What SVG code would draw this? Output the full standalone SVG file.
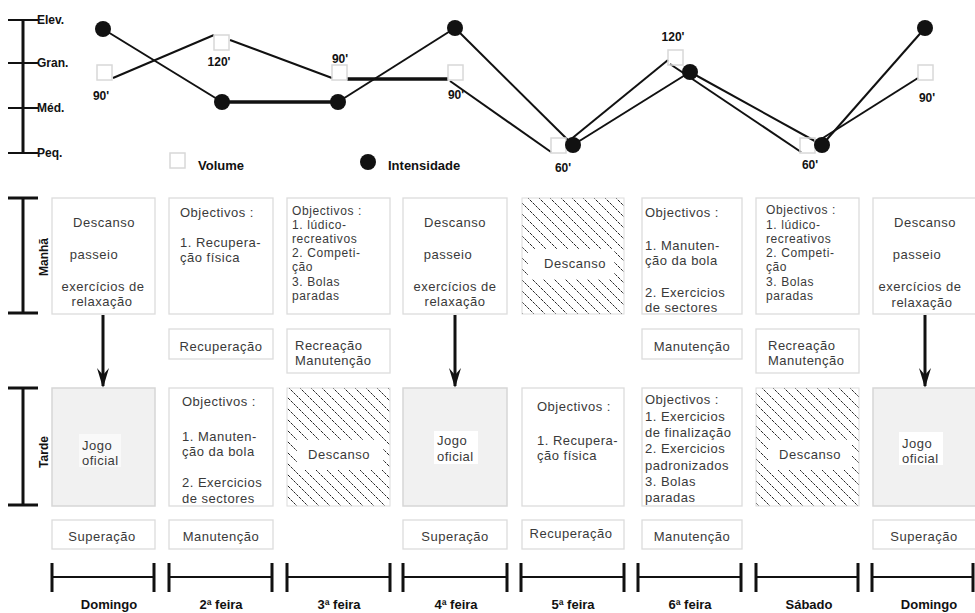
<svg xmlns="http://www.w3.org/2000/svg" width="975" height="613" viewBox="0 0 975 613">
<style>
.bx{fill:#fff;stroke:#dcdcdc;stroke-width:1.3}
.gb{fill:#f1f1f1;stroke:#d6d6d6;stroke-width:1.5}
.hb{fill:url(#hatch);stroke:#dcdcdc;stroke-width:1}
.t{font-family:"Liberation Sans",Arial,sans-serif;font-size:13px;fill:#3a3a3a;letter-spacing:0.5px}
.s{font-size:12px;letter-spacing:0.6px}
.c{text-anchor:middle}
.b{font-family:"Liberation Sans",Arial,sans-serif;font-weight:bold;font-size:12px;fill:#111}
.d{font-family:"Liberation Sans",Arial,sans-serif;font-weight:bold;font-size:13px;fill:#111;text-anchor:middle}
.ax{stroke:#111;stroke-width:3;fill:none}
.tk{stroke:#111;stroke-width:2;fill:none}
.ln{stroke:#111;stroke-width:2;fill:none}
.th{stroke:#111;stroke-width:3.5;fill:none}
.sq{fill:none;stroke:#d8d8d8;stroke-width:1.5}
.dot{fill:#111}
.wb{fill:#fff}
.ar{stroke:#111;stroke-width:3;fill:none}
</style>
<defs>
<pattern id="hatch" patternUnits="userSpaceOnUse" width="11" height="11">
<path d="M-1,-1 L12,12 M-1,10 L1,12 M10,-1 L12,1" stroke="#222" stroke-width="1" stroke-dasharray="3 1"/>
</pattern>
<marker id="ah" viewBox="0 0 20 12" refX="18" refY="6" markerWidth="20" markerHeight="12" markerUnits="userSpaceOnUse" orient="auto">
<path d="M20,6 L0,0 L7,6 L0,12 Z" fill="#111"/>
</marker>
</defs>
<rect width="975" height="613" fill="#fff"/>

<g id="chart-axis">
<line class="ax" x1="23" y1="20" x2="23" y2="153"/>
<line class="tk" x1="8" y1="20" x2="38" y2="20"/>
<line class="tk" x1="8" y1="63" x2="38" y2="63"/>
<line class="tk" x1="8" y1="108" x2="38" y2="108"/>
<line class="tk" x1="8" y1="153" x2="38" y2="153"/>
<text class="b" x="37" y="24">Elev.</text>
<text class="b" x="37" y="67">Gran.</text>
<text class="b" x="37" y="112">Méd.</text>
<text class="b" x="37" y="157">Peq.</text>
</g>

<g id="connectors">
<line class="ln" x1="113" y1="78" x2="214" y2="35"/>
<line class="ln" x1="230" y1="40" x2="332" y2="78"/>
<line class="th" x1="347" y1="79" x2="448" y2="79"/>
<line class="ln" x1="450" y1="81" x2="551" y2="152"/>
<line class="ln" x1="570" y1="140" x2="668" y2="60"/>
<line class="ln" x1="670" y1="64" x2="801" y2="152"/>
<line class="ln" x1="815" y1="143" x2="918" y2="78"/>
<line class="ln" x1="103" y1="29" x2="222" y2="102"/>
<line class="th" x1="222" y1="102" x2="338" y2="102"/>
<line class="ln" x1="338" y1="102" x2="455" y2="28"/>
<line class="ln" x1="455" y1="28" x2="573" y2="145"/>
<line class="ln" x1="573" y1="145" x2="690" y2="72"/>
<line class="ln" x1="690" y1="72" x2="822" y2="145"/>
<line class="ln" x1="822" y1="145" x2="925" y2="28"/>
<line class="ar" x1="103" y1="315" x2="103" y2="386" marker-end="url(#ah)"/>
<line class="ar" x1="455" y1="315" x2="455" y2="386" marker-end="url(#ah)"/>
<line class="ar" x1="925" y1="315" x2="925" y2="386" marker-end="url(#ah)"/>
</g>

<g id="volume-points">
<rect class="sq" x="97" y="65" width="15" height="15"/>
<rect class="sq" x="214" y="35" width="15" height="15"/>
<rect class="sq" x="332" y="65" width="15" height="15"/>
<rect class="sq" x="448" y="65" width="15" height="15"/>
<rect class="sq" x="551" y="138" width="15" height="15"/>
<rect class="sq" x="668" y="50" width="15" height="15"/>
<rect class="sq" x="800" y="138" width="15" height="15"/>
<rect class="sq" x="918" y="65" width="15" height="15"/>
<text class="b" x="101" y="100" text-anchor="middle">90'</text>
<text class="b" x="219" y="66" text-anchor="middle">120'</text>
<text class="b" x="340" y="63" text-anchor="middle">90'</text>
<text class="b" x="456" y="99" text-anchor="middle">90'</text>
<text class="b" x="563" y="172" text-anchor="middle">60'</text>
<text class="b" x="673" y="41" text-anchor="middle">120'</text>
<text class="b" x="810" y="169" text-anchor="middle">60'</text>
<text class="b" x="927" y="102" text-anchor="middle">90'</text>
</g>
<g id="intensity-points">
<circle class="dot" cx="103" cy="29" r="8"/>
<circle class="dot" cx="222" cy="102" r="8"/>
<circle class="dot" cx="338" cy="102" r="8"/>
<circle class="dot" cx="455" cy="28" r="8"/>
<circle class="dot" cx="573" cy="145" r="8"/>
<circle class="dot" cx="690" cy="72" r="8"/>
<circle class="dot" cx="822" cy="145" r="8"/>
<circle class="dot" cx="925" cy="28" r="8"/>
</g>
<g id="legend">
<rect class="sq" x="170" y="153" width="15" height="15"/>
<text class="b" x="198" y="170" style="font-size:13px">Volume</text>
<circle class="dot" cx="368" cy="162" r="8"/>
<text class="b" x="388" y="170" style="font-size:13px">Intensidade</text>
</g>

<g id="manha-axis">
<line class="ax" x1="23" y1="198" x2="23" y2="313"/>
<line class="ax" x1="8" y1="198" x2="38" y2="198"/>
<line class="ax" x1="8" y1="313" x2="38" y2="313"/>
<text class="b" transform="translate(48,257) rotate(-90)" text-anchor="middle">Manhã</text>
</g>
<g id="tarde-axis">
<line class="ax" x1="23" y1="388" x2="23" y2="505"/>
<line class="ax" x1="8" y1="388" x2="38" y2="388"/>
<line class="ax" x1="8" y1="505" x2="38" y2="505"/>
<text class="b" transform="translate(48,452) rotate(-90)" text-anchor="middle">Tarde</text>
</g>

<g id="m-dom1">
<rect class="bx" x="52" y="198" width="103" height="116"/>
<text class="t c" x="104" y="227">Descanso</text>
<text class="t c" x="94" y="259">passeio</text>
<text class="t c" x="103" y="291">exercícios de</text>
<text class="t c" x="102" y="306">relaxação</text>
</g>
<g id="m-seg">
<rect class="bx" x="169" y="198" width="104" height="116"/>
<text class="t" x="180" y="217">Objectivos :</text>
<text class="t" x="180" y="247">1. Recupera-</text>
<text class="t" x="180" y="262">ção física</text>
</g>
<g id="m-ter">
<rect class="bx" x="287" y="198" width="103" height="116"/>
<text class="t s" x="292" y="215">Objectivos :</text>
<text class="t s" x="292" y="229">1. lúdico-</text>
<text class="t s" x="292" y="243">recreativos</text>
<text class="t s" x="292" y="257">2. Competi-</text>
<text class="t s" x="292" y="271">ção</text>
<text class="t s" x="292" y="286">3. Bolas</text>
<text class="t s" x="292" y="300">paradas</text>
</g>
<g id="m-qua">
<rect class="bx" x="403" y="198" width="104" height="116"/>
<text class="t c" x="455" y="227">Descanso</text>
<text class="t c" x="448" y="259">passeio</text>
<text class="t c" x="455" y="291">exercícios de</text>
<text class="t c" x="455" y="306">relaxação</text>
</g>
<g id="m-qui">
<rect class="hb" x="522" y="198" width="102" height="116"/>
<rect class="wb" x="528" y="249" width="86" height="30"/>
<text class="t c" x="575" y="268">Descanso</text>
</g>
<g id="m-sex">
<rect class="bx" x="642" y="198" width="100" height="116"/>
<text class="t" x="645" y="217">Objectivos :</text>
<text class="t" x="645" y="250">1. Manuten-</text>
<text class="t" x="645" y="265">ção da bola</text>
<text class="t" x="645" y="297">2. Exercicios</text>
<text class="t" x="645" y="312">de sectores</text>
</g>
<g id="m-sab">
<rect class="bx" x="756" y="198" width="103" height="116"/>
<text class="t s" x="766" y="214">Objectivos :</text>
<text class="t s" x="766" y="229">1. lúdico-</text>
<text class="t s" x="766" y="243">recreativos</text>
<text class="t s" x="766" y="257">2. Competi-</text>
<text class="t s" x="766" y="271">ção</text>
<text class="t s" x="766" y="286">3. Bolas</text>
<text class="t s" x="766" y="300">paradas</text>
</g>
<g id="m-dom2">
<rect class="bx" x="873" y="198" width="104" height="116"/>
<text class="t c" x="925" y="227">Descanso</text>
<text class="t c" x="917" y="259">passeio</text>
<text class="t c" x="920" y="291">exercícios de</text>
<text class="t c" x="922" y="307">relaxação</text>
</g>

<g id="ms-seg">
<rect class="bx" x="169" y="329" width="104" height="30"/>
<text class="t c" x="221" y="351">Recuperação</text>
</g>
<g id="ms-ter">
<rect class="bx" x="287" y="329" width="103" height="44"/>
<text class="t" x="295" y="350">Recreação</text>
<text class="t" x="295" y="365">Manutenção</text>
</g>
<g id="ms-sex">
<rect class="bx" x="642" y="329" width="100" height="30"/>
<text class="t c" x="692" y="351">Manutenção</text>
</g>
<g id="ms-sab">
<rect class="bx" x="756" y="329" width="103" height="44"/>
<text class="t" x="768" y="350">Recreação</text>
<text class="t" x="768" y="365">Manutenção</text>
</g>

<g id="t-dom1">
<rect class="gb" x="52" y="388" width="103" height="118"/>
<rect class="wb" x="79" y="434" width="42" height="33" fill-opacity="0.6"/>
<text class="t" x="82" y="450">Jogo</text>
<text class="t" x="82" y="465">oficial</text>
</g>
<g id="t-seg">
<rect class="bx" x="169" y="388" width="104" height="118"/>
<text class="t" x="182" y="406">Objectivos :</text>
<text class="t" x="182" y="441">1. Manuten-</text>
<text class="t" x="182" y="456">ção da bola</text>
<text class="t" x="182" y="487">2. Exercicios</text>
<text class="t" x="182" y="503">de sectores</text>
</g>
<g id="t-ter">
<rect class="hb" x="287" y="388" width="103" height="118"/>
<rect class="wb" x="297" y="440" width="86" height="30"/>
<text class="t c" x="339" y="459">Descanso</text>
</g>
<g id="t-qua">
<rect class="gb" x="403" y="388" width="104" height="118"/>
<rect class="wb" x="434" y="431" width="44" height="33"/>
<text class="t" x="437" y="445">Jogo</text>
<text class="t" x="437" y="461">oficial</text>
</g>
<g id="t-qui">
<rect class="bx" x="522" y="388" width="102" height="118"/>
<text class="t" x="537" y="411">Objectivos :</text>
<text class="t" x="537" y="445">1. Recupera-</text>
<text class="t" x="537" y="460">ção física</text>
</g>
<g id="t-sex">
<rect class="bx" x="642" y="388" width="100" height="118"/>
<text class="t" x="645" y="404">Objectivos :</text>
<text class="t" x="645" y="421">1. Exercicios</text>
<text class="t" x="645" y="437">de finalização</text>
<text class="t" x="645" y="453">2. Exercicios</text>
<text class="t" x="645" y="470">padronizados</text>
<text class="t" x="645" y="486">3. Bolas</text>
<text class="t" x="645" y="502">paradas</text>
</g>
<g id="t-sab">
<rect class="hb" x="756" y="388" width="103" height="118"/>
<rect class="wb" x="768" y="440" width="84" height="30"/>
<text class="t c" x="810" y="459">Descanso</text>
</g>
<g id="t-dom2">
<rect class="gb" x="873" y="388" width="104" height="118"/>
<rect class="wb" x="899" y="432" width="44" height="33"/>
<text class="t" x="902" y="448">Jogo</text>
<text class="t" x="902" y="463">oficial</text>
</g>

<g id="ts-dom1">
<rect class="bx" x="52" y="520" width="103" height="29"/>
<text class="t c" x="102" y="541">Superação</text>
</g>
<g id="ts-seg">
<rect class="bx" x="169" y="520" width="104" height="29"/>
<text class="t c" x="221" y="541">Manutenção</text>
</g>
<g id="ts-qua">
<rect class="bx" x="403" y="520" width="104" height="29"/>
<text class="t c" x="455" y="541">Superação</text>
</g>
<g id="ts-qui">
<rect class="bx" x="522" y="520" width="102" height="29"/>
<text class="t c" x="571" y="538">Recuperação</text>
</g>
<g id="ts-sex">
<rect class="bx" x="642" y="520" width="100" height="29"/>
<text class="t c" x="692" y="541">Manutenção</text>
</g>
<g id="ts-dom2">
<rect class="bx" x="873" y="520" width="104" height="29"/>
<text class="t c" x="924" y="541">Superação</text>
</g>

<g id="days">
<path class="ax" d="M52,563V592M154,563V592M169,563V592M272,563V592M287,563V592M390,563V592M403,563V592M507,563V592M521,563V592M624,563V592M638,563V592M741,563V592M756,563V592M858,563V592M872,563V592M973,563V592"/>
<path class="tk" d="M52,577H154M169,577H272M287,577H390M403,577H507M521,577H624M638,577H741M756,577H858M872,577H973"/>
<text class="d" x="109" y="609">Domingo</text>
<text class="d" x="221" y="609">2ª feira</text>
<text class="d" x="339" y="609">3ª feira</text>
<text class="d" x="456" y="609">4ª feira</text>
<text class="d" x="573" y="609">5ª feira</text>
<text class="d" x="690" y="609">6ª feira</text>
<text class="d" x="809" y="609">Sábado</text>
<text class="d" x="929" y="609">Domingo</text>
</g>
</svg>
